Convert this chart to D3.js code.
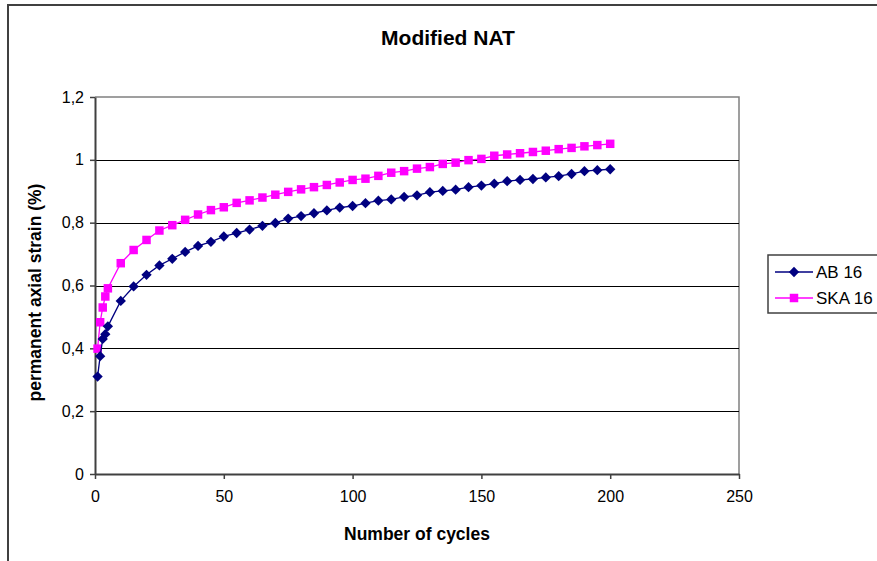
<!DOCTYPE html>
<html><head><meta charset="utf-8">
<script src="https://cdn.jsdelivr.net/npm/d3@7"></script>
<style>body{margin:0;background:#fff}svg{display:block}text{font-family:"Liberation Sans",Arial,sans-serif}</style>
</head><body>
<svg id="c" width="877" height="561"></svg>
<script>
const cycles = [1,2,3,4,5,10,15,20,25,30,35,40,45,50,55,60,65,70,75,80,85,90,95,100,105,110,115,120,125,130,135,140,145,150,155,160,165,170,175,180,185,190,195,200];
const ab16 = [0.31,0.375,0.43,0.445,0.47,0.551,0.597,0.634,0.664,0.685,0.707,0.726,0.739,0.756,0.767,0.778,0.790,0.799,0.813,0.821,0.830,0.839,0.848,0.853,0.862,0.870,0.874,0.882,0.887,0.897,0.901,0.905,0.913,0.918,0.924,0.932,0.936,0.939,0.944,0.948,0.955,0.964,0.967,0.970];
const ska16 = [0.399,0.483,0.53,0.565,0.591,0.671,0.713,0.745,0.775,0.792,0.809,0.826,0.840,0.849,0.863,0.871,0.880,0.889,0.898,0.906,0.913,0.920,0.928,0.936,0.940,0.949,0.959,0.964,0.972,0.977,0.987,0.991,0.999,1.003,1.013,1.017,1.021,1.025,1.029,1.034,1.038,1.043,1.047,1.051];
const xTicks = [0,50,100,150,200,250];
const yTicks = [0,0.2,0.4,0.6,0.8,1.0,1.2];
const seriesNames = ["AB 16","SKA 16"];
const colors = ["#000080","#FF00FF"];

const svg = d3.select("#c");
const L=95,R=739,T=97,B=474;
const x = d3.scaleLinear().domain([0,250]).range([L,R]);
const y = d3.scaleLinear().domain([0,1.2]).range([B,T]);
const fmt = d => d===0?"0":(d===1?"1":d3.format(".1f")(d).replace(".",","));

svg.append("path").attr("d","M8,561 V5 H877").attr("fill","none").attr("stroke","#404040").attr("stroke-width",2);

svg.append("text").attr("x",448).attr("y",45).attr("text-anchor","middle").attr("font-size",21).attr("font-weight","bold").text("Modified NAT");

svg.append("path").attr("d",`M${L},${T} H${R} V${B}`).attr("fill","none").attr("stroke","#808080").attr("stroke-width",1.5);

svg.append("g").selectAll("line").data(yTicks.filter(d=>d>0&&d<1.2)).join("line")
  .attr("x1",L).attr("x2",R).attr("y1",d=>Math.round(y(d))+0.5).attr("y2",d=>Math.round(y(d))+0.5)
  .attr("stroke","#000").attr("stroke-width",1);

const yAxis = d3.axisLeft(y).tickValues(yTicks).tickFormat(fmt).tickSizeOuter(0).tickSizeInner(5).tickPadding(6);
const gy = svg.append("g").attr("transform",`translate(${L},0)`).call(yAxis);
const xAxis = d3.axisBottom(x).tickValues(xTicks).tickSizeOuter(0).tickSizeInner(5).tickPadding(12);
const gx = svg.append("g").attr("transform",`translate(0,${B})`).call(xAxis);
[gx,gy].forEach(g=>{
  g.selectAll("path.domain").attr("stroke","#404040").attr("stroke-width",2);
  g.selectAll(".tick line").attr("stroke","#404040").attr("stroke-width",1.5);
  g.selectAll("text").attr("font-size",16).attr("fill","#000").attr("font-family","Liberation Sans, Arial, sans-serif");
});

svg.append("text").attr("x",(L+R)/2).attr("y",540).attr("text-anchor","middle").attr("font-size",17.5).attr("font-weight","bold").text("Number of cycles");
svg.append("text").attr("transform",`translate(41,${(T+B)/2+7}) rotate(-90)`).attr("text-anchor","middle").attr("font-size",17.5).attr("font-weight","bold").text("permanent axial strain (%)");

const line = d3.line().x(d=>x(d[0])).y(d=>y(d[1]));
const data = [cycles.map((c,i)=>[c,ab16[i]]), cycles.map((c,i)=>[c,ska16[i]])];
const diamond = d3.symbol().type(d3.symbolDiamond2).size(68);
const square = d3.symbol().type(d3.symbolSquare).size(72);

[1,0].forEach(s=>{
  svg.append("path").datum(data[s]).attr("d",line).attr("fill","none").attr("stroke",colors[s]).attr("stroke-width",1.3);
  svg.append("g").selectAll("path").data(data[s]).join("path")
    .attr("transform",d=>`translate(${x(d[0])},${y(d[1])})`)
    .attr("d", s===0?diamond():square()).attr("fill",colors[s]);
});

const lg = svg.append("g");
lg.append("rect").attr("x",768).attr("y",255).attr("width",120).attr("height",58).attr("fill","#fff").attr("stroke","#404040").attr("stroke-width",1.5);
seriesNames.forEach((n,i)=>{
  const yy = 272+i*26;
  lg.append("line").attr("x1",775).attr("x2",813).attr("y1",yy).attr("y2",yy).attr("stroke",colors[i]).attr("stroke-width",1.3);
  lg.append("path").attr("transform",`translate(794,${yy})`).attr("d", i===0?diamond():square()).attr("fill",colors[i]);
  lg.append("text").attr("x",816).attr("y",yy+6).attr("font-size",17).text(n);
});
</script>
</body></html>
